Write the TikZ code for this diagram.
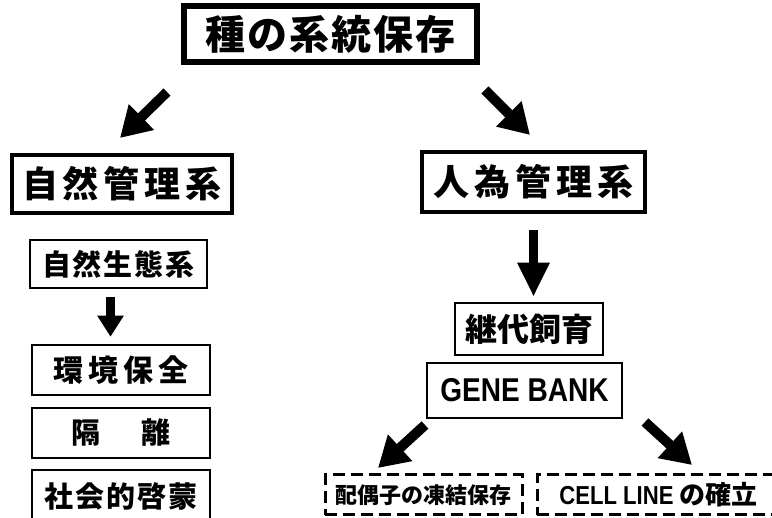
\documentclass[tikz,border=0pt]{standalone}
\usepackage{fontspec}
\newfontfamily\jp{Noto Sans CJK JP}
\newfontfamily\lat{Liberation Sans}[FakeStretch=0.85]
\usetikzlibrary{arrows.meta,calc}
\newcommand\fs[1]{\fontsize{#1}{#1}\selectfont}
\newcommand\jsp[1]{\hspace{#1pt}}
\begin{document}
\begin{tikzpicture}[x=1pt,y=-1pt,
  box/.style={draw, inner sep=0pt, align=center, font=\jp\bfseries},
  thickbox/.style={box, line width=3.2pt},
  midbox/.style={box, line width=2.5pt},
  dashbox/.style={box, line width=3pt, dash pattern=on 12pt off 6pt},
  bigarrow/.style={line width=10pt, -{Triangle[width=34pt,length=30pt]}},
  downarrow/.style={line width=9pt, -{Triangle[width=25pt,length=21pt]}},
  longdown/.style={line width=9pt, -{Triangle[width=30pt,length=34pt]}},
]
\useasboundingbox (0,0) rectangle (772,518);
\clip (0,0) rectangle (772,518);

% title
\node[thickbox, minimum width=295pt, minimum height=58pt] (title) at (330.5,34)
  {\fs{40}種\jsp{2}の\jsp{2}系\jsp{2}統\jsp{2}保\jsp{2}存};
\draw[line width=1.3pt] ([shift={(4.5,4.5)}]title.north west) rectangle ([shift={(-4.5,-4.5)}]title.south east);

% level 2
\node[thickbox, minimum width=220pt, minimum height=58pt] (shizen) at (122,184)
  {\fs{36}自\jsp{5}然\jsp{5}管\jsp{5}理\jsp{5}系};
\node[thickbox, minimum width=223pt, minimum height=60pt] (jin) at (533.5,182)
  {\fs{36}人\jsp{5}為\jsp{5}管\jsp{5}理\jsp{5}系};

% left column
\node[midbox, minimum width=177pt, minimum height=48pt] (seitai) at (118.5,264)
  {\fs{29}自\jsp{2}然\jsp{2}生\jsp{2}態\jsp{2}系};
\node[midbox, minimum width=178pt, minimum height=50pt] (kankyo) at (121,370)
  {\fs{30}環\jsp{5}境\jsp{5}保\jsp{5}全};
\node[midbox, minimum width=178pt, minimum height=50pt] (kakuri) at (121,433)
  {\fs{29}隔\jsp{41}離};
\node[midbox, minimum width=178pt, minimum height=52pt] (keimo) at (121,496)
  {\fs{29}社\jsp{2}会\jsp{2}的\jsp{2}啓\jsp{2}蒙};

% right column
\node[midbox, minimum width=148pt, minimum height=52pt] (keidai) at (529,329)
  {\fs{32}継代飼育};
\node[midbox, minimum width=195pt, minimum height=55pt] (gene) at (524.5,390.5)
  {\lat\bfseries\fs{33}GENE BANK};
\node[dashbox, minimum width=197pt, minimum height=40pt] (haigu) at (423.5,495)
  {\fs{22}配偶子の凍結保存};
\node[dashbox, minimum width=243pt, minimum height=40pt] (cell) at (658.5,495)
  {{\lat\bfseries\fs{26}CELL LINE}\jsp{6}\fs{26}の確立};

% arrow end points
\coordinate (a1s) at (167,92);  \coordinate (a1e) at (120,138);
\coordinate (a2s) at (485,90);  \coordinate (a2e) at (530,135);
\coordinate (a3s) at ($(seitai.south)+(-8,8)$);
\coordinate (a3e) at ($(kankyo.north)+(-10.5,-7)$);
\coordinate (a4s) at ($(jin.south)+(0,16)$);
\coordinate (a4e) at ($(keidai.north)+(4.5,-5)$);
\coordinate (a5s) at (425,425); \coordinate (a5e) at (378,468);
\coordinate (a6s) at (645,422); \coordinate (a6e) at (692,465);

\draw[bigarrow] (a1s) -- (a1e);
\draw[bigarrow] (a2s) -- (a2e);
\draw[downarrow] (a3s) -- (a3e);
\draw[longdown] (a4s) -- (a4e);
\draw[bigarrow] (a5s) -- (a5e);
\draw[bigarrow] (a6s) -- (a6e);
\end{tikzpicture}
\end{document}
